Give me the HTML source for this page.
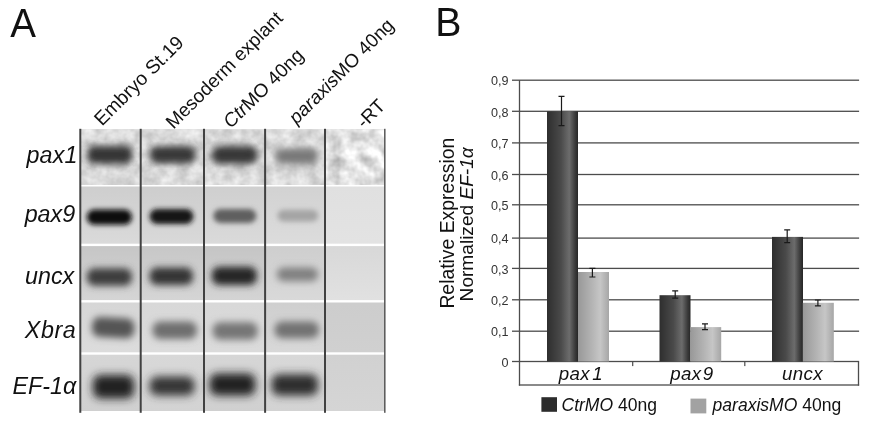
<!DOCTYPE html>
<html><head><meta charset="utf-8"><title>Figure</title>
<style>
html,body{margin:0;padding:0;background:#fff;}
body{width:871px;height:425px;overflow:hidden;font-family:"Liberation Sans", sans-serif;}
svg{display:block;filter:grayscale(1);}
text{font-family:"Liberation Sans", sans-serif;}
</style></head><body>
<svg width="871" height="425" viewBox="0 0 871 425">
<defs>
<linearGradient id="gd" x1="0" x2="1" y1="0" y2="0">
<stop offset="0" stop-color="#2e2e2e"/><stop offset="0.45" stop-color="#4a4a4a"/><stop offset="0.72" stop-color="#6c6c6c"/><stop offset="0.9" stop-color="#3c3c3c"/><stop offset="1" stop-color="#262626"/>
</linearGradient>
<linearGradient id="gl" x1="0" x2="1" y1="0" y2="0">
<stop offset="0" stop-color="#989898"/><stop offset="0.45" stop-color="#b4b4b4"/><stop offset="0.72" stop-color="#c6c6c6"/><stop offset="1" stop-color="#a6a6a6"/>
</linearGradient>
<filter id="noise" x="0" y="0" width="100%" height="100%" color-interpolation-filters="sRGB">
<feTurbulence type="fractalNoise" baseFrequency="0.085" numOctaves="3" seed="11" result="t"/>
<feColorMatrix in="t" type="matrix" values="0.26 0 0 0 0.725  0.26 0 0 0 0.725  0.26 0 0 0 0.725  0 0 0 0 1"/>
</filter>
<filter id="noise5" x="0" y="0" width="100%" height="100%" color-interpolation-filters="sRGB">
<feTurbulence type="fractalNoise" baseFrequency="0.07" numOctaves="3" seed="23" result="t"/>
<feColorMatrix in="t" type="matrix" values="0.5 0 0 0 0.65  0.5 0 0 0 0.65  0.5 0 0 0 0.65  0 0 0 0 1"/>
</filter>
<clipPath id="gelclip"><rect x="80" y="129.2" width="305" height="281.8"/></clipPath>

<filter id="b0" x="-40%" y="-150%" width="180%" height="400%"><feGaussianBlur stdDeviation="3.6"/></filter>
<filter id="b1" x="-40%" y="-150%" width="180%" height="400%"><feGaussianBlur stdDeviation="3.6"/></filter>
<filter id="b2" x="-40%" y="-150%" width="180%" height="400%"><feGaussianBlur stdDeviation="3.6"/></filter>
<filter id="b3" x="-40%" y="-150%" width="180%" height="400%"><feGaussianBlur stdDeviation="3.6"/></filter>
<filter id="b4" x="-40%" y="-150%" width="180%" height="400%"><feGaussianBlur stdDeviation="2.9"/></filter>
<filter id="b5" x="-40%" y="-150%" width="180%" height="400%"><feGaussianBlur stdDeviation="2.9"/></filter>
<filter id="b6" x="-40%" y="-150%" width="180%" height="400%"><feGaussianBlur stdDeviation="2.9"/></filter>
<filter id="b7" x="-40%" y="-150%" width="180%" height="400%"><feGaussianBlur stdDeviation="2.9"/></filter>
<filter id="b8" x="-40%" y="-150%" width="180%" height="400%"><feGaussianBlur stdDeviation="3.5"/></filter>
<filter id="b9" x="-40%" y="-150%" width="180%" height="400%"><feGaussianBlur stdDeviation="3.5"/></filter>
<filter id="b10" x="-40%" y="-150%" width="180%" height="400%"><feGaussianBlur stdDeviation="3.5"/></filter>
<filter id="b11" x="-40%" y="-150%" width="180%" height="400%"><feGaussianBlur stdDeviation="3.5"/></filter>
<filter id="b12" x="-40%" y="-150%" width="180%" height="400%"><feGaussianBlur stdDeviation="3.7"/></filter>
<filter id="b13" x="-40%" y="-150%" width="180%" height="400%"><feGaussianBlur stdDeviation="3.7"/></filter>
<filter id="b14" x="-40%" y="-150%" width="180%" height="400%"><feGaussianBlur stdDeviation="3.7"/></filter>
<filter id="b15" x="-40%" y="-150%" width="180%" height="400%"><feGaussianBlur stdDeviation="3.7"/></filter>
<filter id="b16" x="-40%" y="-150%" width="180%" height="400%"><feGaussianBlur stdDeviation="4.3"/></filter>
<filter id="b17" x="-40%" y="-150%" width="180%" height="400%"><feGaussianBlur stdDeviation="4.0"/></filter>
<filter id="b18" x="-40%" y="-150%" width="180%" height="400%"><feGaussianBlur stdDeviation="4.2"/></filter>
<filter id="b19" x="-40%" y="-150%" width="180%" height="400%"><feGaussianBlur stdDeviation="4.2"/></filter>
</defs>
<rect width="871" height="425" fill="#fff"/>
<g clip-path="url(#gelclip)">
<linearGradient id="c00" x1="0" x2="0" y1="0" y2="1"><stop offset="0" stop-color="#d6d6d6"/><stop offset="1" stop-color="#d6d6d6"/></linearGradient>
<rect x="80.3" y="129.2" width="60.9" height="54.9" fill="url(#c00)"/>
<linearGradient id="c01" x1="0" x2="0" y1="0" y2="1"><stop offset="0" stop-color="#d4d4d4"/><stop offset="1" stop-color="#d4d4d4"/></linearGradient>
<rect x="140.7" y="129.2" width="63.8" height="54.9" fill="url(#c01)"/>
<linearGradient id="c02" x1="0" x2="0" y1="0" y2="1"><stop offset="0" stop-color="#d8d8d8"/><stop offset="1" stop-color="#d8d8d8"/></linearGradient>
<rect x="204.0" y="129.2" width="61.6" height="54.9" fill="url(#c02)"/>
<linearGradient id="c03" x1="0" x2="0" y1="0" y2="1"><stop offset="0" stop-color="#dadada"/><stop offset="1" stop-color="#dadada"/></linearGradient>
<rect x="265.1" y="129.2" width="60.4" height="54.9" fill="url(#c03)"/>
<linearGradient id="c04" x1="0" x2="0" y1="0" y2="1"><stop offset="0" stop-color="#e4e4e4"/><stop offset="1" stop-color="#e4e4e4"/></linearGradient>
<rect x="325.0" y="129.2" width="60.3" height="54.9" fill="url(#c04)"/>
<linearGradient id="c10" x1="0" x2="0" y1="0" y2="1"><stop offset="0" stop-color="#cecece"/><stop offset="1" stop-color="#dadada"/></linearGradient>
<rect x="80.3" y="186.5" width="60.9" height="57.2" fill="url(#c10)"/>
<linearGradient id="c11" x1="0" x2="0" y1="0" y2="1"><stop offset="0" stop-color="#cdcdcd"/><stop offset="1" stop-color="#d9d9d9"/></linearGradient>
<rect x="140.7" y="186.5" width="63.8" height="57.2" fill="url(#c11)"/>
<linearGradient id="c12" x1="0" x2="0" y1="0" y2="1"><stop offset="0" stop-color="#cfcfcf"/><stop offset="1" stop-color="#dadada"/></linearGradient>
<rect x="204.0" y="186.5" width="61.6" height="57.2" fill="url(#c12)"/>
<linearGradient id="c13" x1="0" x2="0" y1="0" y2="1"><stop offset="0" stop-color="#d2d2d2"/><stop offset="1" stop-color="#dcdcdc"/></linearGradient>
<rect x="265.1" y="186.5" width="60.4" height="57.2" fill="url(#c13)"/>
<linearGradient id="c14" x1="0" x2="0" y1="0" y2="1"><stop offset="0" stop-color="#e0e0e0"/><stop offset="1" stop-color="#e3e3e3"/></linearGradient>
<rect x="325.0" y="186.5" width="60.3" height="57.2" fill="url(#c14)"/>
<linearGradient id="c20" x1="0" x2="0" y1="0" y2="1"><stop offset="0" stop-color="#c6c6c6"/><stop offset="1" stop-color="#d5d5d5"/></linearGradient>
<rect x="80.3" y="246.1" width="60.9" height="54.0" fill="url(#c20)"/>
<linearGradient id="c21" x1="0" x2="0" y1="0" y2="1"><stop offset="0" stop-color="#c7c7c7"/><stop offset="1" stop-color="#d5d5d5"/></linearGradient>
<rect x="140.7" y="246.1" width="63.8" height="54.0" fill="url(#c21)"/>
<linearGradient id="c22" x1="0" x2="0" y1="0" y2="1"><stop offset="0" stop-color="#c5c5c5"/><stop offset="1" stop-color="#d4d4d4"/></linearGradient>
<rect x="204.0" y="246.1" width="61.6" height="54.0" fill="url(#c22)"/>
<linearGradient id="c23" x1="0" x2="0" y1="0" y2="1"><stop offset="0" stop-color="#cecece"/><stop offset="1" stop-color="#d9d9d9"/></linearGradient>
<rect x="265.1" y="246.1" width="60.4" height="54.0" fill="url(#c23)"/>
<linearGradient id="c24" x1="0" x2="0" y1="0" y2="1"><stop offset="0" stop-color="#d8d8d8"/><stop offset="1" stop-color="#e1e1e1"/></linearGradient>
<rect x="325.0" y="246.1" width="60.3" height="54.0" fill="url(#c24)"/>
<linearGradient id="c30" x1="0" x2="0" y1="0" y2="1"><stop offset="0" stop-color="#d6d6d6"/><stop offset="1" stop-color="#dcdcdc"/></linearGradient>
<rect x="80.3" y="302.5" width="60.9" height="49.8" fill="url(#c30)"/>
<linearGradient id="c31" x1="0" x2="0" y1="0" y2="1"><stop offset="0" stop-color="#d8d8d8"/><stop offset="1" stop-color="#dcdcdc"/></linearGradient>
<rect x="140.7" y="302.5" width="63.8" height="49.8" fill="url(#c31)"/>
<linearGradient id="c32" x1="0" x2="0" y1="0" y2="1"><stop offset="0" stop-color="#d8d8d8"/><stop offset="1" stop-color="#dbdbdb"/></linearGradient>
<rect x="204.0" y="302.5" width="61.6" height="49.8" fill="url(#c32)"/>
<linearGradient id="c33" x1="0" x2="0" y1="0" y2="1"><stop offset="0" stop-color="#cfcfcf"/><stop offset="1" stop-color="#d8d8d8"/></linearGradient>
<rect x="265.1" y="302.5" width="60.4" height="49.8" fill="url(#c33)"/>
<linearGradient id="c34" x1="0" x2="0" y1="0" y2="1"><stop offset="0" stop-color="#cdcdcd"/><stop offset="1" stop-color="#d0d0d0"/></linearGradient>
<rect x="325.0" y="302.5" width="60.3" height="49.8" fill="url(#c34)"/>
<linearGradient id="c40" x1="0" x2="0" y1="0" y2="1"><stop offset="0" stop-color="#d6d6d6"/><stop offset="1" stop-color="#d0d0d0"/></linearGradient>
<rect x="80.3" y="354.7" width="60.9" height="56.3" fill="url(#c40)"/>
<linearGradient id="c41" x1="0" x2="0" y1="0" y2="1"><stop offset="0" stop-color="#d8d8d8"/><stop offset="1" stop-color="#d3d3d3"/></linearGradient>
<rect x="140.7" y="354.7" width="63.8" height="56.3" fill="url(#c41)"/>
<linearGradient id="c42" x1="0" x2="0" y1="0" y2="1"><stop offset="0" stop-color="#d6d6d6"/><stop offset="1" stop-color="#d0d0d0"/></linearGradient>
<rect x="204.0" y="354.7" width="61.6" height="56.3" fill="url(#c42)"/>
<linearGradient id="c43" x1="0" x2="0" y1="0" y2="1"><stop offset="0" stop-color="#d8d8d8"/><stop offset="1" stop-color="#d3d3d3"/></linearGradient>
<rect x="265.1" y="354.7" width="60.4" height="56.3" fill="url(#c43)"/>
<linearGradient id="c44" x1="0" x2="0" y1="0" y2="1"><stop offset="0" stop-color="#d1d1d1"/><stop offset="1" stop-color="#d5d5d5"/></linearGradient>
<rect x="325.0" y="354.7" width="60.3" height="56.3" fill="url(#c44)"/>
<rect x="80" y="129.2" width="305" height="55.2" fill="#ddd" filter="url(#noise)"/>
<rect x="325" y="129.2" width="60" height="55.0" fill="#ddd" filter="url(#noise5)"/>
<rect x="86.8" y="145.7" width="46.0" height="18.3" rx="7.5" fill="#363636" filter="url(#b0)"/>
<rect x="149.6" y="145.9" width="46.2" height="17.7" rx="7.5" fill="#383838" filter="url(#b1)"/>
<rect x="211.8" y="145.7" width="46.0" height="18.3" rx="7.5" fill="#383838" filter="url(#b2)"/>
<rect x="275.3" y="148.3" width="42.9" height="15.9" rx="7.5" fill="#787878" filter="url(#b3)"/>
<rect x="86.7" y="209.5" width="45.3" height="15.3" rx="7.5" fill="#0c0c0c" filter="url(#b4)"/>
<rect x="149.5" y="208.9" width="44.0" height="15.1" rx="7.5" fill="#181818" filter="url(#b5)"/>
<rect x="213.3" y="208.9" width="43.0" height="14.0" rx="7.0" fill="#5e5e5e" filter="url(#b6)"/>
<rect x="277.5" y="209.7" width="40.7" height="11.7" rx="5.9" fill="#a4a4a4" filter="url(#b7)"/>
<rect x="86.8" y="268.2" width="45.2" height="17.5" rx="7.5" fill="#3e3e3e" filter="url(#b8)"/>
<rect x="149.4" y="267.6" width="43.7" height="17.4" rx="7.5" fill="#363636" filter="url(#b9)"/>
<rect x="211.7" y="266.8" width="45.3" height="18.2" rx="7.5" fill="#262626" filter="url(#b10)"/>
<rect x="276.8" y="267.6" width="41.4" height="13.6" rx="6.8" fill="#808080" filter="url(#b11)"/>
<rect x="92.1" y="317.7" width="42.2" height="19.8" rx="7.5" fill="#545454" filter="url(#b12)" transform="rotate(3.2 113.2 327.6)"/>
<rect x="152.5" y="321.5" width="44.5" height="17.5" rx="7.5" fill="#6e6e6e" filter="url(#b13)"/>
<rect x="212.6" y="322.3" width="45.2" height="17.5" rx="7.5" fill="#767676" filter="url(#b14)"/>
<rect x="274.5" y="321.5" width="44.5" height="16.7" rx="7.5" fill="#727272" filter="url(#b15)"/>
<rect x="92.9" y="375.0" width="41.2" height="23.4" rx="7.5" fill="#222222" filter="url(#b16)"/>
<rect x="149.5" y="376.6" width="45.1" height="18.9" rx="7.5" fill="#343434" filter="url(#b17)"/>
<rect x="209.5" y="373.5" width="45.9" height="22.0" rx="7.5" fill="#242424" filter="url(#b18)"/>
<rect x="271.5" y="374.3" width="46.6" height="21.2" rx="7.5" fill="#2e2e2e" filter="url(#b19)"/>
</g>
<rect x="79.30" y="128.8" width="2.0" height="284" fill="#414141"/>
<rect x="139.70" y="128.8" width="2.0" height="284" fill="#414141"/>
<rect x="203.00" y="128.8" width="2.0" height="284" fill="#414141"/>
<rect x="264.10" y="128.8" width="2.0" height="284" fill="#414141"/>
<rect x="324.00" y="128.8" width="2.0" height="284" fill="#414141"/>
<rect x="384.05" y="128.8" width="1.5" height="284" fill="#585858"/>
<text x="77.6" y="162.9" text-anchor="end" font-size="23.3" letter-spacing="0.15" font-style="italic" fill="#111">pax1</text>
<text x="75.2" y="222.1" text-anchor="end" font-size="23.3" letter-spacing="0" font-style="italic" fill="#111">pax9</text>
<text x="74.2" y="284.1" text-anchor="end" font-size="23.3" letter-spacing="0" font-style="italic" fill="#111">uncx</text>
<text x="76.4" y="337.6" text-anchor="end" font-size="23.3" letter-spacing="0.6" font-style="italic" fill="#111">Xbra</text>
<text x="76.2" y="394" text-anchor="end" font-size="23.3" letter-spacing="0" font-style="italic" fill="#111">EF-1α</text>
<text transform="translate(10.2,36.8) scale(0.955,1)" font-size="40.4" fill="#111">A</text>
<text transform="translate(435.3,36.2) scale(0.985,1)" font-size="39.8" fill="#111">B</text>
<text transform="translate(102,126.7) rotate(-45)" font-size="19.35" fill="#111">Embryo St.19</text>
<text transform="translate(173.4,129.8) rotate(-45)" font-size="19.0" fill="#111">Mesoderm explant</text>
<text transform="translate(230.8,128.9) rotate(-44.3)" font-size="19.0" fill="#111"><tspan font-style="italic">Ctr</tspan>MO 40ng</text>
<text transform="translate(296.5,125.0) rotate(-45)" font-size="19.0" fill="#111"><tspan font-style="italic">paraxis</tspan>MO 40ng</text>
<text transform="translate(364.3,129.3) rotate(-45)" font-size="19.0" fill="#111">-RT</text>
<rect x="512" y="360.85" width="347.1" height="1.3" fill="#4c4c4c"/>
<text x="508.6" y="366.7" text-anchor="end" font-size="12.6" fill="#333">0</text>
<rect x="512" y="330.55" width="347.1" height="1.3" fill="#4c4c4c"/>
<text x="508.6" y="336.4" text-anchor="end" font-size="12.6" fill="#333">0,1</text>
<rect x="512" y="299.15" width="347.1" height="1.3" fill="#4c4c4c"/>
<text x="508.6" y="305.0" text-anchor="end" font-size="12.6" fill="#333">0,2</text>
<rect x="512" y="267.75" width="347.1" height="1.3" fill="#4c4c4c"/>
<text x="508.6" y="273.6" text-anchor="end" font-size="12.6" fill="#333">0,3</text>
<rect x="512" y="237.45" width="347.1" height="1.3" fill="#4c4c4c"/>
<text x="508.6" y="243.3" text-anchor="end" font-size="12.6" fill="#333">0,4</text>
<rect x="512" y="204.15" width="347.1" height="1.3" fill="#4c4c4c"/>
<text x="508.6" y="210.0" text-anchor="end" font-size="12.6" fill="#333">0,5</text>
<rect x="512" y="173.85" width="347.1" height="1.3" fill="#4c4c4c"/>
<text x="508.6" y="179.7" text-anchor="end" font-size="12.6" fill="#333">0,6</text>
<rect x="512" y="142.25" width="347.1" height="1.3" fill="#4c4c4c"/>
<text x="508.6" y="148.1" text-anchor="end" font-size="12.6" fill="#333">0,7</text>
<rect x="512" y="110.65" width="347.1" height="1.3" fill="#4c4c4c"/>
<text x="508.6" y="116.5" text-anchor="end" font-size="12.6" fill="#333">0,8</text>
<rect x="512" y="79.55" width="347.1" height="1.3" fill="#4c4c4c"/>
<text x="508.6" y="85.4" text-anchor="end" font-size="12.6" fill="#333">0,9</text>
<rect x="518.85" y="80.2" width="1.3" height="305.4" fill="#4c4c4c"/>
<rect x="518.85" y="384.35" width="340.3" height="1.3" fill="#4c4c4c"/>
<rect x="857.85" y="361.5" width="1.3" height="24.1" fill="#4c4c4c"/>
<rect x="632.1" y="361.5" width="1.2" height="4.6" fill="#4c4c4c"/>
<rect x="744.1999999999999" y="361.5" width="1.2" height="4.6" fill="#4c4c4c"/>
<rect x="547" y="111.3" width="31" height="250.2" fill="url(#gd)"/>
<rect x="659.5" y="295.2" width="31" height="66.3" fill="url(#gd)"/>
<rect x="772" y="236.9" width="31" height="124.6" fill="url(#gd)"/>
<rect x="578" y="272.0" width="31" height="89.5" fill="url(#gl)"/>
<rect x="690.2" y="327.1" width="31" height="34.4" fill="url(#gl)"/>
<rect x="802.8" y="302.8" width="31" height="58.7" fill="url(#gl)"/>
<path d="M558.5 96.3H564.5M561.5 96.3V125.6M558.5 125.6H564.5" stroke="#1a1a1a" stroke-width="1.2" fill="none"/>
<path d="M672.2 290.8H678.2M675.2 290.8V298.2M672.2 298.2H678.2" stroke="#1a1a1a" stroke-width="1.2" fill="none"/>
<path d="M784.2 229.8H790.2M787.2 229.8V242.7M784.2 242.7H790.2" stroke="#1a1a1a" stroke-width="1.2" fill="none"/>
<path d="M589.4 268.3H595.4M592.4 268.3V277.0M589.4 277.0H595.4" stroke="#1a1a1a" stroke-width="1.2" fill="none"/>
<path d="M702 323.9H708M705 323.9V329.6M702 329.6H708" stroke="#1a1a1a" stroke-width="1.2" fill="none"/>
<path d="M814.9 300H820.9M817.9 300V305.8M814.9 305.8H820.9" stroke="#1a1a1a" stroke-width="1.2" fill="none"/>
<text x="558.8" y="380.4" font-size="18.7" letter-spacing="0.35" font-style="italic" fill="#111">pax<tspan dx="2.3">1</tspan></text>
<text x="670.3" y="380.3" font-size="18.7" letter-spacing="0.35" font-style="italic" fill="#111">pax<tspan dx="1.3">9</tspan></text>
<text x="781.9" y="380.3" font-size="18.7" letter-spacing="0.45" font-style="italic" fill="#111">uncx</text>
<text transform="translate(453.6,308.6) rotate(-90)" font-size="19.35" fill="#111">Relative Expression</text>
<text transform="translate(473.4,301.4) rotate(-90)" font-size="19.1" fill="#111">Normalized <tspan font-style="italic">EF-1α</tspan></text>
<rect x="541.4" y="397.2" width="15.6" height="14.6" fill="#2c2c2c"/>
<text x="561.5" y="411.4" font-size="17.55" fill="#111"><tspan font-style="italic">CtrMO</tspan> 40ng</text>
<rect x="690.5" y="398.6" width="15.8" height="14.8" fill="#a2a2a2"/>
<text x="712.6" y="410.6" font-size="17.55" fill="#111"><tspan font-style="italic">paraxisMO</tspan> 40ng</text>
</svg></body></html>
